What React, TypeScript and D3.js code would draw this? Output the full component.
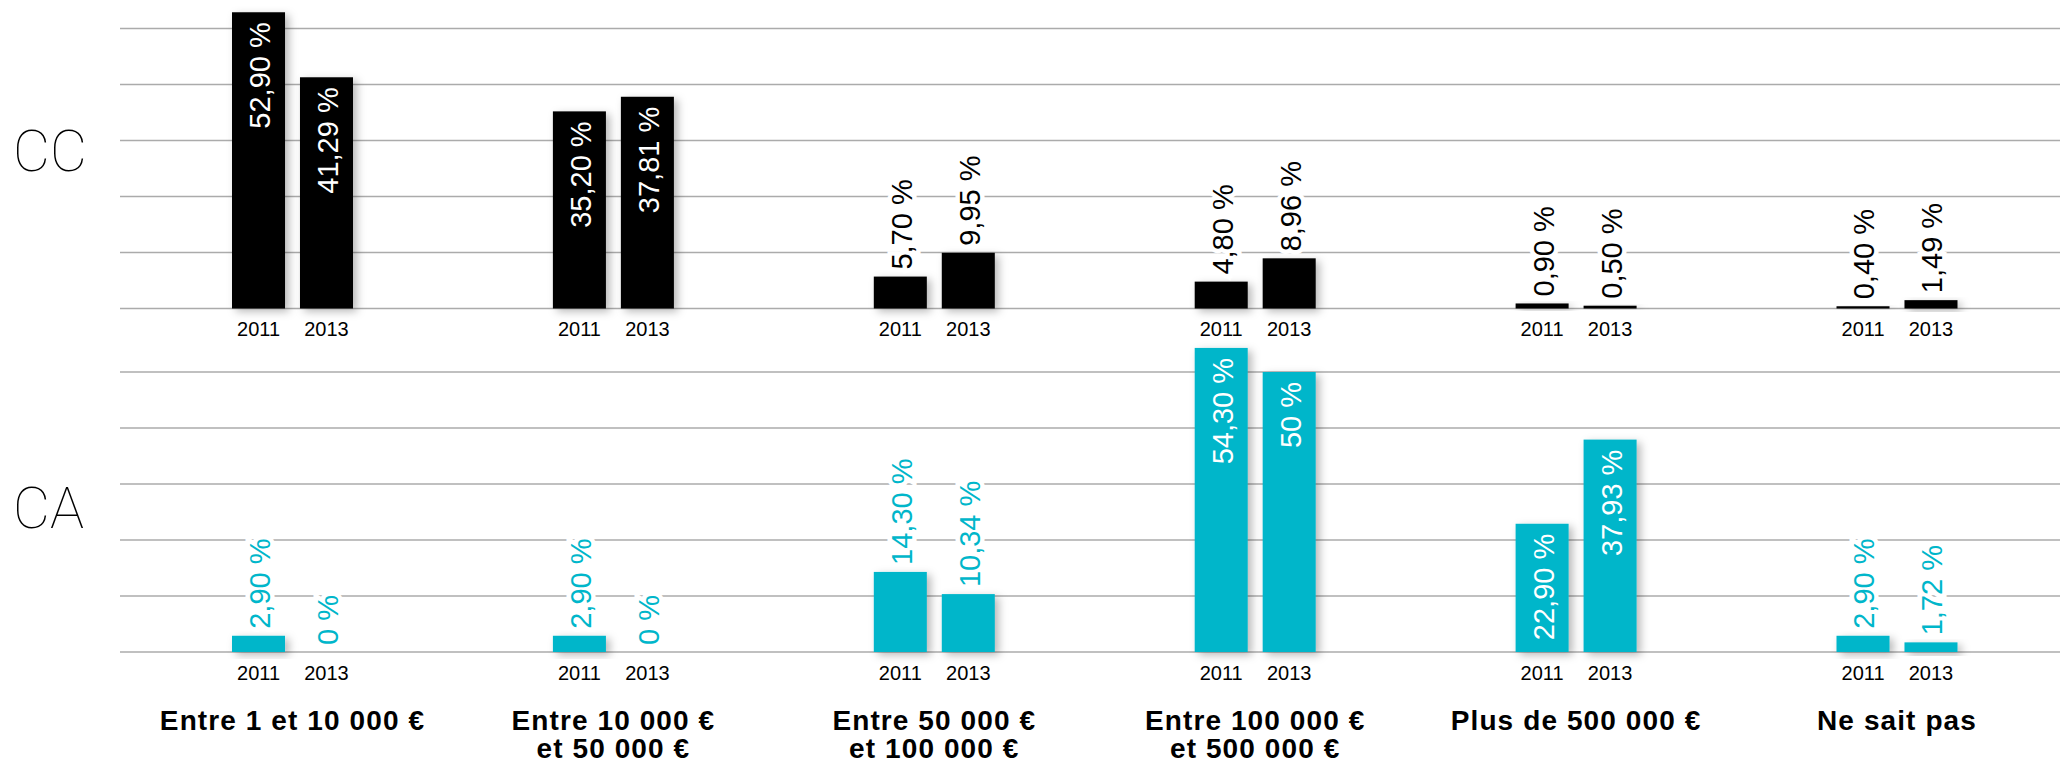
import React from "react";
import * as d3 from "d3";

const categories: string[][] = [
  ["Entre 1 et 10 000 €"],
  ["Entre 10 000 €", "et 50 000 €"],
  ["Entre 50 000 €", "et 100 000 €"],
  ["Entre 100 000 €", "et 500 000 €"],
  ["Plus de 500 000 €"],
  ["Ne sait pas"],
];
const years = ["2011", "2013"];
const cc2011 = [52.9, 35.2, 5.7, 4.8, 0.9, 0.4];
const cc2013 = [41.29, 37.81, 9.95, 8.96, 0.5, 1.49];
const ca2011 = [2.9, 2.9, 14.3, 54.3, 22.9, 2.9];
const ca2013 = [0, 0, 10.34, 50, 37.93, 1.72];
const panelNames = ["CC", "CA"];

const W = 2060;
const H = 765;
const CYAN = "#00b6ca";

const fmt = (v: number) =>
  Number.isInteger(v) ? `${v} %` : `${v.toFixed(2).replace(".", ",")} %`;

export default function App() {
  const keys = categories.map((_, i) => String(i));
  const xGroup = d3.scalePoint<string>().domain(keys).range([292.5, 1897]);
  const xYear = d3
    .scaleBand<string>()
    .domain(years)
    .range([-60.5, 60.5])
    .paddingInner(0.22);

  const panels = [
    {
      name: panelNames[0],
      series: [cc2011, cc2013],
      color: "#000",
      outColor: "#000",
      y: d3.scaleLinear().domain([0, 50]).range([308.5, 28.5]),
      nameY: 150,
    },
    {
      name: panelNames[1],
      series: [ca2011, ca2013],
      color: CYAN,
      outColor: CYAN,
      y: d3.scaleLinear().domain([0, 50]).range([652, 372]),
      nameY: 507,
    },
  ];

  return (
    <svg
      width={W}
      height={H}
      style={{ position: "absolute", left: 0, top: 0, background: "#fff" }}
    >
      <defs>
        <filter id="shadow" x="-30%" y="-30%" width="170%" height="170%">
          <feDropShadow
            dx="4"
            dy="3"
            stdDeviation="4"
            floodColor="#000"
            floodOpacity="0.28"
          />
        </filter>
      </defs>
      <rect width={W} height={H} fill="#fff" />
      {panels.map((p, pi) => (
        <g key={pi}>
          {p.y.ticks(5).map((t) => (
            <line
              key={t}
              x1={120}
              x2={W}
              y1={p.y(t)}
              y2={p.y(t)}
              stroke="#ababab"
              strokeWidth={1.6}
            />
          ))}
          <text
            x={13}
            y={p.nameY}
            dy="0.36em"
            fontFamily="Roboto, 'Liberation Sans', sans-serif"
            fontWeight={100}
            fontSize={57}
            fill="#000"
          >
            {p.name}
          </text>
          {keys.map((k, ci) => (
            <g key={k} transform={`translate(${xGroup(k)},0)`}>
              {years.map((yr, si) => {
                const v = p.series[si][ci];
                const x = xYear(yr)!;
                const bw = xYear.bandwidth();
                const y0 = p.y(0);
                const yv = p.y(v);
                const inside = v >= 20;
                const cx = x + bw / 2;
                return (
                  <g key={yr}>
                    {v > 0 && (
                      <rect
                        x={x}
                        y={yv}
                        width={bw}
                        height={y0 - yv}
                        fill={p.color}
                        filter="url(#shadow)"
                      />
                    )}
                    <text
                      transform={`translate(${cx + 1},${
                        inside ? yv + 10 : yv - 7
                      }) rotate(-90)`}
                      textAnchor={inside ? "end" : "start"}
                      dy="0.36em"
                      fontFamily="'Liberation Sans', Arial, sans-serif"
                      fontSize={29}
                      fill={inside ? "#fff" : p.outColor}
                      stroke={inside ? "none" : "#fff"}
                      strokeWidth={inside ? 0 : 9}
                      paintOrder="stroke"
                    >
                      {fmt(v)}
                    </text>
                    <text
                      x={cx}
                      y={y0 + 27.5}
                      textAnchor="middle"
                      fontFamily="'Liberation Sans', Arial, sans-serif"
                      fontSize={20}
                      fill="#000"
                    >
                      {yr}
                    </text>
                  </g>
                );
              })}
            </g>
          ))}
        </g>
      ))}
      {categories.map((lines, ci) => (
        <text
          key={ci}
          x={xGroup(String(ci))}
          y={730}
          textAnchor="middle"
          fontFamily="'Liberation Sans', Arial, sans-serif"
          fontWeight="bold"
          fontSize={28}
          letterSpacing={1.1}
          fill="#000"
        >
          {lines.map((l, li) => (
            <tspan key={li} x={xGroup(String(ci))} dy={li === 0 ? 0 : 28}>
              {l}
            </tspan>
          ))}
        </text>
      ))}
    </svg>
  );
}
